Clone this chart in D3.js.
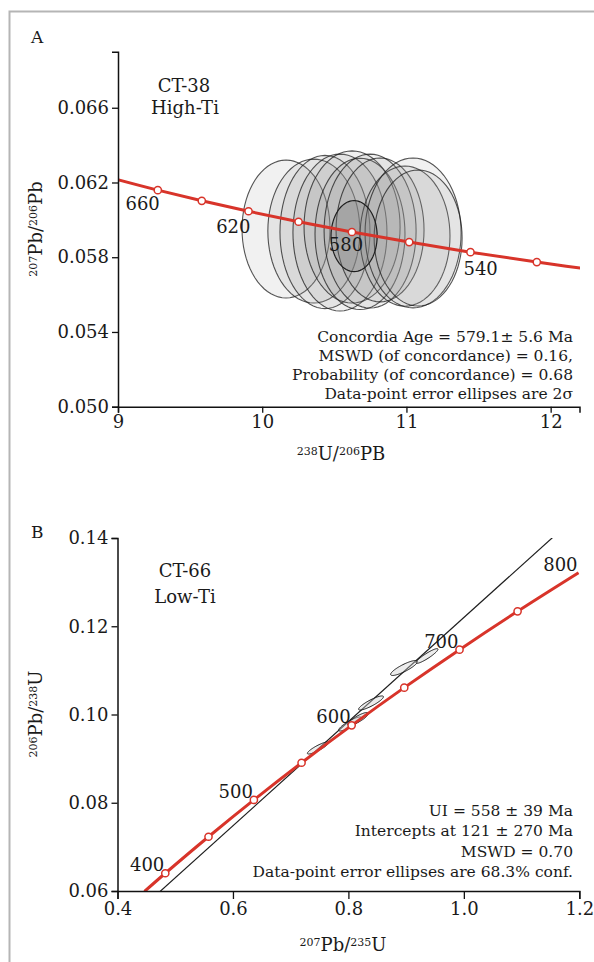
<!DOCTYPE html>
<html>
<head>
<meta charset="utf-8">
<script src="https://cdn.jsdelivr.net/npm/d3@7"></script>
<style>
  body { margin: 0; background: #fff; }
  svg text { font-family: "DejaVu Serif", serif; fill: #1a1a1a; }
</style>
</head>
<body>
<svg id="chart" width="594" height="962"></svg>
<script>
// ---- Panel A (Tera-Wasserburg) ----
const ticksAX = [9, 10, 11, 12];
const ticksAY = [0.050, 0.054, 0.058, 0.062, 0.066];
// concordia points: [age Ma, 238U/206Pb, 207Pb/206Pb]
const concordiaA = [
  [680, 8.989, 0.06217], [660, 9.276, 0.06159], [640, 9.581, 0.06102],
  [620, 9.905, 0.06046], [600, 10.252, 0.05990], [580, 10.622, 0.05935],
  [560, 11.019, 0.05881], [540, 11.444, 0.05827], [520, 11.904, 0.05774],
  [500, 12.399, 0.05722]
];
const markersA = [660, 640, 620, 600, 580, 560, 540, 520];
const labelsA = [660, 620, 580, 540];
// error ellipses: centre, half-widths, correlation
const ellipsesA = [
  { cx: 10.165, cy: 0.05951, sx: 0.305, sy: 0.00369, rho: 0 },
  { cx: 10.358, cy: 0.05940, sx: 0.319, sy: 0.00385, rho: 0 },
  { cx: 10.435, cy: 0.05935, sx: 0.312, sy: 0.00410, rho: 0 },
  { cx: 10.539, cy: 0.05932, sx: 0.326, sy: 0.00420, rho: 0 },
  { cx: 10.623, cy: 0.05962, sx: 0.333, sy: 0.00407, rho: 0 },
  { cx: 10.678, cy: 0.05925, sx: 0.312, sy: 0.00405, rho: 0 },
  { cx: 10.748, cy: 0.05940, sx: 0.319, sy: 0.00412, rho: 0 },
  { cx: 10.817, cy: 0.05946, sx: 0.305, sy: 0.00385, rho: 0 },
  { cx: 10.990, cy: 0.05913, sx: 0.312, sy: 0.00375, rho: 0 },
  { cx: 11.046, cy: 0.05930, sx: 0.333, sy: 0.00401, rho: 0 },
  { cx: 11.081, cy: 0.05903, sx: 0.305, sy: 0.00364, rho: 0 }
];
const meanEllipseA = { cx: 10.637, cy: 0.05913, sx: 0.160, sy: 0.00190, rho: 0 };
const notesA = [
  "Concordia Age = 579.1\u00b1 5.6 Ma",
  "MSWD (of concordance) = 0.16,",
  "Probability (of concordance) = 0.68",
  "Data-point error ellipses are 2\u03c3"
];

// ---- Panel B (Wetherill) ----
const ticksBX = [0.4, 0.6, 0.8, 1.0, 1.2];
const ticksBY = [0.06, 0.08, 0.10, 0.12, 0.14];
// [age Ma, 207Pb/235U, 206Pb/238U]
const concordiaB = [
  [375, 0.44676, 0.05990], [400, 0.48281, 0.06402], [450, 0.55766, 0.07230],
  [500, 0.63628, 0.08065], [550, 0.71887, 0.08906], [600, 0.80563, 0.09754],
  [650, 0.89676, 0.10609], [700, 0.99251, 0.11470], [750, 1.09308, 0.12338],
  [800, 1.19870, 0.13213]
];
const markersB = [400, 450, 500, 550, 600, 650, 700, 750];
const labelsB = [400, 500, 600, 700, 800];
// discordia through lower (121 Ma) and upper (558 Ma) intercepts
const interceptsB = [[0.1266, 0.01895], [0.7325, 0.09042]];
const ellipsesB = [
  { cx: 0.7474, cy: 0.09241, sx: 0.01847, sy: 0.00137, rho: 0.884 },
  { cx: 0.8028, cy: 0.09785, sx: 0.01968, sy: 0.00159, rho: 0.871 },
  { cx: 0.8167, cy: 0.09898, sx: 0.01820, sy: 0.00148, rho: 0.852 },
  { cx: 0.8392, cy: 0.10261, sx: 0.02155, sy: 0.00160, rho: 0.879 },
  { cx: 0.8964, cy: 0.11054, sx: 0.02330, sy: 0.00170, rho: 0.854 },
  { cx: 0.9362, cy: 0.11326, sx: 0.01900, sy: 0.00167, rho: 0.916 }
];
const notesB = [
  "UI = 558 \u00b1 39 Ma",
  "Intercepts at 121 \u00b1 270 Ma",
  "MSWD = 0.70",
  "Data-point error ellipses are 68.3% conf."
];

const red = "#d8342a";
const svg = d3.select("#chart");

// outer frame
svg.append("path")
  .attr("d", "M9.5,962 V11.5 H594")
  .attr("fill", "none")
  .attr("stroke", "#b5b5b5")
  .attr("stroke-width", 2);

function ellipsePath(e, x, y) {
  const pts = d3.range(0, 73).map((i) => {
    const t = (i / 72) * 2 * Math.PI;
    return [
      x(e.cx + e.sx * Math.cos(t)),
      y(e.cy + e.sy * (e.rho * Math.cos(t) + Math.sqrt(1 - e.rho * e.rho) * Math.sin(t)))
    ];
  });
  return d3.line()(pts) + "Z";
}

function drawAxes(g, x, y, xTicks, yTicks, xFmt, yFmt, tickX) {
  const xa = g.append("g")
    .attr("transform", `translate(0,${y.range()[0]})`)
    .call(d3.axisBottom(x).tickValues(xTicks).tickFormat(xFmt).tickSizeOuter(0).tickSize(tickX).tickPadding(3));
  const ya = g.append("g")
    .attr("transform", `translate(${x.range()[0]},0)`)
    .call(d3.axisLeft(y).tickValues(yTicks).tickFormat(yFmt).tickSizeOuter(0).tickSize(6).tickPadding(3));
  [xa, ya].forEach((a) => {
    a.select(".domain").attr("stroke", "#111").attr("stroke-width", 1.5);
    a.selectAll(".tick line").attr("stroke", "#111").attr("stroke-width", 1.3);
    a.selectAll("text").attr("font-size", 18).attr("fill", "#1a1a1a")
      .attr("font-family", "DejaVu Serif, serif");
  });
}

function supLabel(g, parts, attrs) {
  const t = g.append("text").attr("font-size", 18);
  Object.entries(attrs).forEach(([k, v]) => t.attr(k, v));
  parts.forEach(([s, sup]) => {
    const sp = t.append("tspan").text(s);
    if (sup) sp.attr("font-size", 11).attr("baseline-shift", "45%");
  });
  return t;
}

// ================= Panel A =================
{
  const x = d3.scaleLinear().domain([9, 12.2]).range([118, 579.5]);
  const y = d3.scaleLinear().domain([0.050, 0.069]).range([406.7, 51.7]);
  const g = svg.append("g");

  g.append("clipPath").attr("id", "clipA")
    .append("rect").attr("x", 118).attr("y", 40).attr("width", 462).attr("height", 367);

  const plot = g.append("g").attr("clip-path", "url(#clipA)");

  plot.selectAll("path.ell")
    .data(ellipsesA)
    .join("path")
    .attr("class", "ell")
    .attr("d", (d) => ellipsePath(d, x, y))
    .attr("fill", "#8c8c8c")
    .attr("fill-opacity", 0.12)
    .attr("stroke", "#1e1e1e")
    .attr("stroke-opacity", 0.75)
    .attr("stroke-width", 1.1);

  plot.append("path")
    .attr("d", ellipsePath(meanEllipseA, x, y))
    .attr("fill", "#7a7a7a")
    .attr("fill-opacity", 0.3)
    .attr("stroke", "#1e1e1e")
    .attr("stroke-width", 1.2);

  plot.append("path")
    .datum(concordiaA)
    .attr("d", d3.line().x((d) => x(d[1])).y((d) => y(d[2])).curve(d3.curveCatmullRom))
    .attr("fill", "none")
    .attr("stroke", red)
    .attr("stroke-width", 3);

  const byAge = new Map(concordiaA.map((d) => [d[0], d]));
  plot.selectAll("circle")
    .data(markersA.map((a) => byAge.get(a)))
    .join("circle")
    .attr("cx", (d) => x(d[1]))
    .attr("cy", (d) => y(d[2]))
    .attr("r", 3.6)
    .attr("fill", "#fff")
    .attr("stroke", red)
    .attr("stroke-width", 1.5);

  // age labels sit below the curve
  const nudgeA = { 660: [2, 20, "end"], 620: [2, 22, "end"], 580: [-6, 19, "middle"], 540: [-7, 23, "start"] };
  g.selectAll("text.age")
    .data(labelsA.map((a) => byAge.get(a)))
    .join("text")
    .attr("class", "age")
    .attr("x", (d) => x(d[1]) + nudgeA[d[0]][0])
    .attr("y", (d) => y(d[2]) + nudgeA[d[0]][1])
    .attr("text-anchor", (d) => nudgeA[d[0]][2])
    .attr("font-size", 18)
    .text((d) => d[0]);

  drawAxes(g, x, y, ticksAX, ticksAY, d3.format("d"), d3.format(".3f"), 6);

  g.append("text").attr("x", 31).attr("y", 43).attr("font-size", 17).text("A");
  g.append("text").attr("x", 184).attr("y", 92).attr("font-size", 18)
    .attr("text-anchor", "middle").text("CT-38");
  g.append("text").attr("x", 185).attr("y", 114).attr("font-size", 18)
    .attr("text-anchor", "middle").text("High-Ti");

  g.selectAll("text.note")
    .data(notesA)
    .join("text")
    .attr("class", "note")
    .attr("x", 573)
    .attr("y", (d, i) => 341.5 + i * 19.2)
    .attr("text-anchor", "end")
    .attr("font-size", 15.5)
    .text((d) => d);

  supLabel(g, [["238", true], ["U/", false], ["206", true], ["PB", false]],
    { x: 341, y: 460, "text-anchor": "middle" });
  supLabel(g, [["207", true], ["Pb/", false], ["206", true], ["Pb", false]],
    { transform: "translate(42,229) rotate(-90)", "text-anchor": "middle" });
}

// ================= Panel B =================
{
  const x = d3.scaleLinear().domain([0.4, 1.2]).range([117.5, 579.3]);
  const y = d3.scaleLinear().domain([0.06, 0.14]).range([891, 538]);
  const g = svg.append("g");

  g.append("clipPath").attr("id", "clipB")
    .append("rect").attr("x", 117.5).attr("y", 538).attr("width", 462).attr("height", 353);

  const plot = g.append("g").attr("clip-path", "url(#clipB)");

  // discordia line, extended past the upper intercept to the frame
  const [p0, p1] = interceptsB;
  const slope = (p1[1] - p0[1]) / (p1[0] - p0[0]);
  const xEnd = 1.3;
  plot.append("line")
    .attr("x1", x(p0[0])).attr("y1", y(p0[1]))
    .attr("x2", x(xEnd)).attr("y2", y(p0[1] + slope * (xEnd - p0[0])))
    .attr("stroke", "#1e1e1e")
    .attr("stroke-width", 1.2);

  plot.selectAll("path.ell")
    .data(ellipsesB)
    .join("path")
    .attr("class", "ell")
    .attr("d", (d) => ellipsePath(d, x, y))
    .attr("fill", "#d0d0d0")
    .attr("fill-opacity", 0.4)
    .attr("stroke", "#1e1e1e")
    .attr("stroke-width", 1);

  plot.append("path")
    .datum(concordiaB)
    .attr("d", d3.line().x((d) => x(d[1])).y((d) => y(d[2])).curve(d3.curveCatmullRom))
    .attr("fill", "none")
    .attr("stroke", red)
    .attr("stroke-width", 3);

  const byAge = new Map(concordiaB.map((d) => [d[0], d]));
  plot.selectAll("circle")
    .data(markersB.map((a) => byAge.get(a)))
    .join("circle")
    .attr("cx", (d) => x(d[1]))
    .attr("cy", (d) => y(d[2]))
    .attr("r", 3.6)
    .attr("fill", "#fff")
    .attr("stroke", red)
    .attr("stroke-width", 1.5);

  g.selectAll("text.age")
    .data(labelsB.map((a) => byAge.get(a)))
    .join("text")
    .attr("class", "age")
    .attr("x", (d) => x(d[1]) - 1)
    .attr("y", (d) => y(d[2]) - 2)
    .attr("text-anchor", "end")
    .attr("font-size", 18)
    .text((d) => d[0]);

  drawAxes(g, x, y, ticksBX, ticksBY, d3.format(".1f"), d3.format(".2f"), 8);

  g.append("text").attr("x", 31).attr("y", 538).attr("font-size", 17).text("B");
  g.append("text").attr("x", 185).attr("y", 577).attr("font-size", 18)
    .attr("text-anchor", "middle").text("CT-66");
  g.append("text").attr("x", 185).attr("y", 603).attr("font-size", 18)
    .attr("text-anchor", "middle").text("Low-Ti");

  g.selectAll("text.note")
    .data(notesB)
    .join("text")
    .attr("class", "note")
    .attr("x", 573)
    .attr("y", (d, i) => 815.5 + i * 20.5)
    .attr("text-anchor", "end")
    .attr("font-size", 15.5)
    .text((d) => d);

  supLabel(g, [["207", true], ["Pb/", false], ["235", true], ["U", false]],
    { x: 343, y: 951, "text-anchor": "middle" });
  supLabel(g, [["206", true], ["Pb/", false], ["238", true], ["U", false]],
    { transform: "translate(42,714) rotate(-90)", "text-anchor": "middle" });
}
</script>
</body>
</html>
